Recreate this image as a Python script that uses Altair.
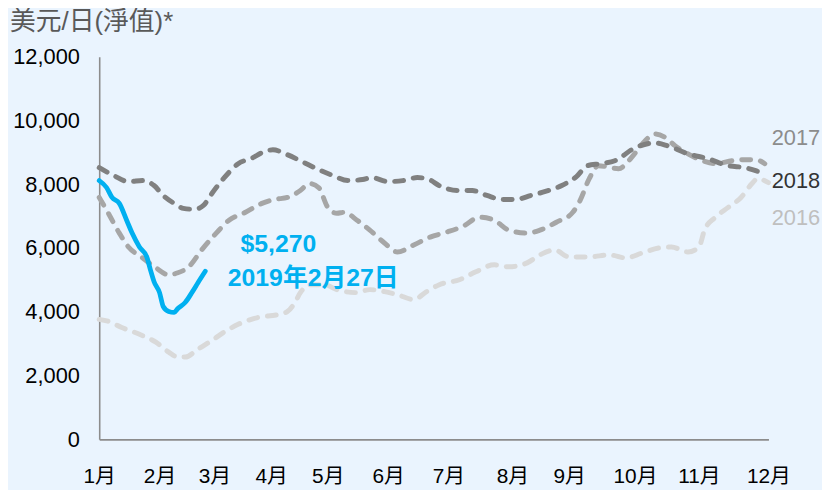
import altair as alt
import pandas as pd

# ---- data (day of year, US$/day) ----
month_labels = ["1月", "2月", "3月", "4月", "5月", "6月", "7月", "8月", "9月", "10月", "11月", "12月"]
month_tick_days = [0, 33, 63, 94, 125, 158, 191, 226, 257, 293, 328, 366]

days_2016 = [0, 5, 12, 22, 31, 38, 43, 47, 54, 61, 69, 76, 87, 98, 103, 107, 110, 116, 123, 130, 140, 148,
             156, 163, 172, 179, 186, 197, 206, 216, 224, 234, 241, 249, 257, 268, 279, 288, 297, 306, 313,
             322, 328, 331, 337, 344, 351, 357, 360, 366]
vals_2016 = [3762, 3700, 3513, 3295, 3047, 2736, 2580, 2580, 2829, 3078, 3389, 3606, 3824, 3917, 4011, 4290,
             4601, 4850, 4850, 4695, 4601, 4695, 4632, 4539, 4384, 4632, 4850, 5005, 5254, 5472, 5410, 5534,
             5783, 5938, 5721, 5721, 5783, 5690, 5845, 6000, 6031, 5876, 6031, 6560, 6964, 7275, 7586, 8021,
             8177, 8052]

days_2017 = [0, 5, 11, 16, 23, 31, 38, 43, 49, 56, 64, 71, 80, 89, 96, 103, 110, 115, 120, 125, 130, 134,
             141, 148, 156, 163, 172, 181, 190, 199, 208, 216, 224, 234, 241, 250, 259, 263, 268, 273, 284,
             291, 297, 304, 310, 315, 322, 330, 337, 346, 351, 359, 364]
vals_2017 = [7586, 7089, 6467, 6031, 5721, 5379, 5161, 5223, 5410, 5938, 6467, 6871, 7120, 7399, 7524, 7586,
             7804, 8021, 7897, 7275, 7089, 7120, 6871, 6560, 6156, 5876, 6094, 6342, 6498, 6684, 6964, 6871,
             6560, 6467, 6560, 6809, 7120, 7493, 8177, 8581, 8488, 8830, 9265, 9576, 9451, 9203, 8954, 8736,
             8643, 8736, 8767, 8767, 8643]

days_2018 = [0, 8, 16, 24, 30, 35, 41, 46, 52, 57, 62, 68, 76, 84, 90, 95, 103, 111, 120, 128, 136, 144,
             149, 158, 166, 174, 179, 187, 196, 204, 212, 220, 228, 236, 244, 253, 261, 267, 274, 282, 293,
             304, 311, 322, 333, 344, 353, 359, 363]
vals_2018 = [8519, 8270, 8083, 8114, 7959, 7648, 7399, 7244, 7213, 7337, 7741, 8177, 8643, 8830, 9016, 9078,
             8923, 8705, 8457, 8270, 8114, 8146, 8208, 8083, 8114, 8208, 8177, 7928, 7804, 7804, 7648, 7524,
             7524, 7648, 7773, 7959, 8239, 8581, 8643, 8736, 9140, 9296, 9203, 8954, 8798, 8581, 8519, 8425,
             8332]

days_2019 = [0, 4, 7, 11, 15, 18, 22, 26, 28, 30, 33, 35, 38, 41, 43, 47, 51, 54, 58]
vals_2019 = [8114, 7897, 7586, 7399, 6871, 6467, 6031, 5721, 5316, 4943, 4601, 4166, 4011, 3980, 4104, 4290,
             4632, 4912, 5270]

series_names = ["2016", "2017", "2018", "2019"]
year_label_text = ["2017", "2018", "2016"]
year_label_day = [381, 381, 381]
year_label_val = [9450, 8114, 6933]

annot_text = ["$5,270", "2019年2月27日"]
annot_day = [98, 117]
annot_val = [6125, 5068]

title_text = "美元/日(淨值)*"

rows = []
for name, ds, vs in [("2016", days_2016, vals_2016), ("2017", days_2017, vals_2017),
                     ("2018", days_2018, vals_2018), ("2019", days_2019, vals_2019)]:
    for d, v in zip(ds, vs):
        rows.append({"series": name, "day": d, "value": v})
df = pd.DataFrame(rows)

FONT = "Liberation Sans, Arial, Noto Sans CJK TC, sans-serif"
labels_js = "[" + ",".join("'%s'" % m for m in month_labels) + "]"
ticks_js = "[" + ",".join(str(t) for t in month_tick_days) + "]"

x_enc = alt.X("day:Q", scale=alt.Scale(domain=[0, 366], nice=False, zero=False),
              axis=alt.Axis(values=month_tick_days, title=None, grid=False, ticks=False,
                            labelExpr=labels_js + "[indexof(" + ticks_js + ", datum.value)]",
                            labelFontSize=21, labelColor="#000000", labelFont=FONT,
                            labelPadding=27, domainColor="#8C8C8C", domainWidth=1.6,
                            labelBaseline="top", labelFlush=False, labelOverlap=False))
y_enc = alt.Y("value:Q", scale=alt.Scale(domain=[0, 12000], nice=False),
              axis=alt.Axis(values=[0, 2000, 4000, 6000, 8000, 10000, 12000], format=",.0f",
                            title=None, grid=False, ticks=False, labelFontSize=22,
                            labelColor="#000000", labelFont=FONT, labelPadding=20,
                            domainColor="#8C8C8C", domainWidth=1.6, labelFlush=False))

base = alt.Chart(df)

styles = {
    "2016": dict(color="#D9D9D9", strokeWidth=5, strokeDash=[9, 10], strokeCap="round"),
    "2017": dict(color="#A6A6A6", strokeWidth=5, strokeDash=[9, 10], strokeCap="round"),
    "2018": dict(color="#808080", strokeWidth=5, strokeDash=[9, 10], strokeCap="round"),
    "2019": dict(color="#00B0F0", strokeWidth=4.8, strokeCap="round"),
}

layers = []
for s in series_names:
    layers.append(
        base.transform_filter(alt.datum.series == s)
        .mark_line(interpolate="monotone", **styles[s])
        .encode(x=x_enc, y=y_enc)
    )

lab_df = pd.DataFrame({"text": year_label_text, "day": year_label_day, "value": year_label_val,
                       "series": year_label_text})
year_labels = alt.Chart(lab_df).mark_text(fontSize=22, font=FONT, align="center", baseline="middle").encode(
    x="day:Q", y="value:Q", text="text:N",
    color=alt.Color("series:N", scale=alt.Scale(domain=["2017", "2018", "2016"],
                                                range=["#8C8C8C", "#333333", "#BFBFBF"]), legend=None),
)

ann_df = pd.DataFrame({"text": annot_text, "day": annot_day, "value": annot_val})
annotation = alt.Chart(ann_df).mark_text(fontSize=25, font=FONT, fontWeight="bold", color="#00B0F0",
                                         align="center", baseline="middle").encode(
    x="day:Q", y="value:Q", text="text:N")

title_df = pd.DataFrame({"t": [title_text]})
title_mark = alt.Chart(title_df).mark_text(fontSize=26, font=FONT, color="#595959", align="left",
                                           baseline="middle").encode(
    text="t:N", x=alt.value(-90), y=alt.value(-35))

chart = alt.layer(*layers, year_labels, annotation, title_mark).properties(
    width=675, height=386,
    autosize=alt.AutoSizeParams(type="none"),
    padding={"left": 92, "top": 47, "right": 54, "bottom": 49},
    background="#EAF4FE",
).configure_view(stroke=None)

chart.save("out.html", embed_options={"renderer": "svg", "actions": False})
